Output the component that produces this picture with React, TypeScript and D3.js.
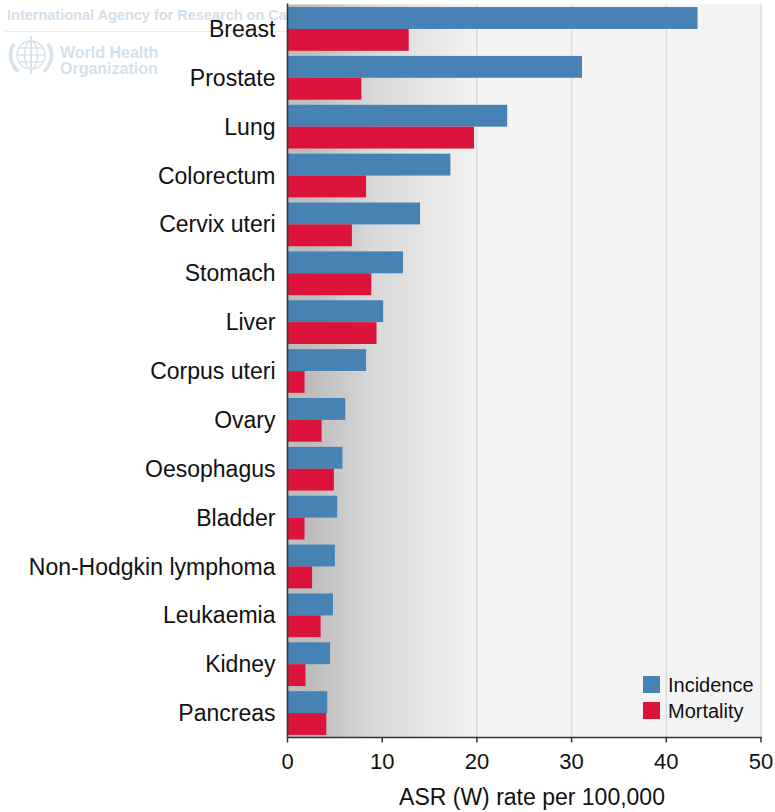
import React from "react";
import * as d3 from "d3";

const categories = [
  "Breast", "Prostate", "Lung", "Colorectum", "Cervix uteri", "Stomach", "Liver",
  "Corpus uteri", "Ovary", "Oesophagus", "Bladder", "Non-Hodgkin lymphoma",
  "Leukaemia", "Kidney", "Pancreas",
];
const incidence = [43.3, 31.1, 23.2, 17.2, 14.0, 12.2, 10.1, 8.3, 6.1, 5.8, 5.25, 5.0, 4.8, 4.5, 4.2];
const mortality = [12.8, 7.8, 19.7, 8.3, 6.8, 8.85, 9.4, 1.8, 3.6, 4.9, 1.8, 2.6, 3.5, 1.9, 4.1];
const seriesNames = ["Incidence", "Mortality"];
const seriesColors = ["#4682b4", "#dc143c"];
const xTicks = [0, 10, 20, 30, 40, 50];
const xTitle = "ASR (W) rate per 100,000";

const W = 775;
const H = 812;
const left = 287.5;
const right = 761;
const top = 4.5;
const bottom = 737.5;
const FONT = "'Liberation Sans', Arial, Helvetica, sans-serif";

export default function App() {
  const x = d3.scaleLinear().domain([0, 50]).range([left, right]);
  const y = d3.scaleBand<string>().domain(categories).range([top, bottom]).paddingInner(0.105).paddingOuter(0.0525);
  const sub = d3.scaleBand<string>().domain(seriesNames).range([0, y.bandwidth()]).padding(0);
  const series = [incidence, mortality];

  return (
    <svg width={W} height={H} style={{ position: "absolute", left: 0, top: 0, background: "#fff" }} fontFamily={FONT}>
      <defs>
        <linearGradient id="bgGrad" x1="0" x2="1" y1="0" y2="0">
          <stop offset="0" stopColor="#bdbdbd" />
          <stop offset="0.12" stopColor="#bcbcbc" />
          <stop offset="0.45" stopColor="#d8d8d8" />
          <stop offset="1" stopColor="#f2f2f2" />
        </linearGradient>
      </defs>

      {/* watermark */}
      <g>
        <text x={7} y={20} fontSize={14.5} fontWeight="bold" fill="#d2e0eb">International Agency for Research on Cancer</text>
        <line x1={5} x2={290} y1={31.5} y2={31.5} stroke="#e5edf3" strokeWidth={1} />
        <g transform="translate(31,55)" fill="none" stroke="#d6e2ec" strokeWidth={1.4}>
          <circle r={14} />
          <ellipse rx={6.5} ry={14} />
          <line x1={-14} x2={14} y1={0} y2={0} />
          <line x1={-12} x2={12} y1={-7} y2={-7} />
          <line x1={-12} x2={12} y1={7} y2={7} />
          <path d="M-17,-11 Q-26,2 -13,17" strokeWidth={3.5} />
          <path d="M17,-11 Q26,2 13,17" strokeWidth={3.5} />
          <line x1={0} x2={0} y1={-19} y2={19} strokeWidth={2} />
        </g>
        <text x={60} y={58} fontSize={16} fontWeight="bold" fill="#d3e1ec">World Health</text>
        <text x={60} y={74} fontSize={16} fontWeight="bold" fill="#d3e1ec">Organization</text>
      </g>

      {/* plot background */}
      <rect x={left} y={top} width={right - left} height={bottom - top} fill="#f4f4f4" />
      <rect x={left} y={top} width={x(20) - left - 1} height={bottom - top} fill="url(#bgGrad)" />
      {xTicks.filter((t) => t >= 20).map((t) => (
        <line key={"g" + t} x1={x(t)} x2={x(t)} y1={top} y2={bottom} stroke="#dcdcdc" strokeWidth={1.5} />
      ))}

      {/* bars */}
      {categories.map((c, i) => (
        <g key={c} transform={`translate(0,${y(c)})`}>
          {seriesNames.map((s, k) => (
            <rect
              key={s}
              x={x(0)}
              y={sub(s)}
              width={x(series[k][i]) - x(0)}
              height={sub.bandwidth()}
              fill={seriesColors[k]}
            />
          ))}
        </g>
      ))}

      {/* category labels */}
      {categories.map((c) => (
        <text key={"l" + c} x={275.5} y={(y(c) as number) + y.bandwidth() / 2} dy="0.35em" textAnchor="end" fontSize={23} fill="#111">
          {c}
        </text>
      ))}

      {/* axes */}
      <line x1={left} x2={left} y1={top - 1} y2={bottom} stroke="#333" strokeWidth={1.6} />
      <line x1={left} x2={right + 1} y1={bottom} y2={bottom} stroke="#333" strokeWidth={1.6} />
      {xTicks.map((t) => (
        <g key={"t" + t}>
          <line x1={x(t)} x2={x(t)} y1={bottom} y2={bottom + 5} stroke="#333" strokeWidth={1.5} />
          <text x={x(t)} y={768.5} textAnchor="middle" fontSize={22} fill="#111">{t}</text>
        </g>
      ))}
      <text x={532} y={805} textAnchor="middle" fontSize={23} fill="#111">{xTitle}</text>

      {/* legend */}
      {seriesNames.map((s, k) => (
        <g key={"lg" + s} transform={`translate(643,${676 + k * 26})`}>
          <rect width={17} height={17} fill={seriesColors[k]} />
          <text x={25} y={8.5} dy="0.36em" fontSize={20} fill="#111">{s}</text>
        </g>
      ))}
    </svg>
  );
}
